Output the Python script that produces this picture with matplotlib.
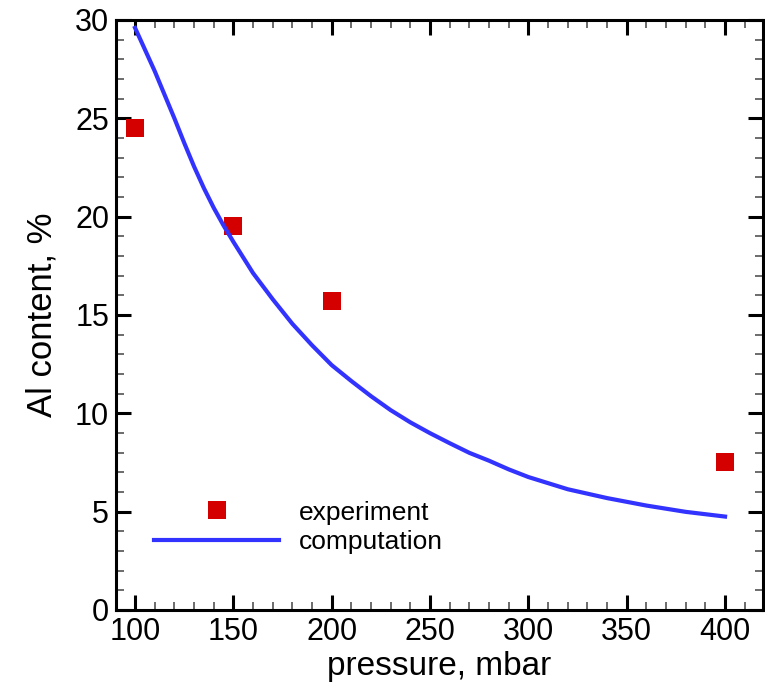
import matplotlib
matplotlib.use("Agg")
import matplotlib.pyplot as plt
from matplotlib.ticker import MultipleLocator

plt.rcParams["font.family"] = ["Liberation Sans", "DejaVu Sans"]

# --- Data ---
exp_pressure = [100, 150, 200, 400]
exp_al = [24.5, 19.5, 15.7, 7.5]

comp_pressure = [100, 105, 110, 115, 120, 125, 130, 135, 140, 145, 150, 160, 170,
                 180, 190, 200, 210, 220, 230, 240, 250, 260, 270, 280, 290, 300,
                 320, 340, 360, 380, 400]
comp_al = [29.6, 28.5, 27.4, 26.2, 25.0, 23.75, 22.55, 21.45, 20.45, 19.55, 18.72,
           17.13, 15.8, 14.55, 13.46, 12.45, 11.64, 10.87, 10.16, 9.54, 8.99, 8.48,
           7.99, 7.59, 7.15, 6.76, 6.14, 5.69, 5.31, 4.99, 4.75]

# --- Plot ---
fig = plt.figure(figsize=(7.65, 6.87), dpi=100)
ax = fig.add_axes([0.1516, 0.1121, 0.8458, 0.8588])

ax.plot(exp_pressure, exp_al, linestyle="none", marker="s", markersize=13.5,
        color="#d40000", markeredgewidth=0, label="experiment")
ax.plot(comp_pressure, comp_al, color="#3333ff", linewidth=3, label="computation")

ax.set_xlim(90.3, 419.3)
ax.set_ylim(0, 30)
ax.xaxis.set_major_locator(MultipleLocator(50))
ax.xaxis.set_minor_locator(MultipleLocator(10))
ax.yaxis.set_major_locator(MultipleLocator(5))
ax.yaxis.set_minor_locator(MultipleLocator(1))

for s in ax.spines.values():
    s.set_linewidth(2.2)
ax.tick_params(which="both", direction="in", top=True, right=True, labelsize=22)
ax.tick_params(which="major", length=10.5, width=2.2, pad=5)
ax.tick_params(which="minor", length=5.5, width=1.1, color="#444444")

ax.set_xlabel("pressure, mbar", fontsize=24, labelpad=3)
ax.set_ylabel("Al content, %", fontsize=25, labelpad=12)

ax.legend(loc="lower left", bbox_to_anchor=(0.022, 0.055), frameon=False, fontsize=19,
          handlelength=4.75, handletextpad=0.75, numpoints=1, labelspacing=0.2)

plt.savefig("out.png", dpi=100)
